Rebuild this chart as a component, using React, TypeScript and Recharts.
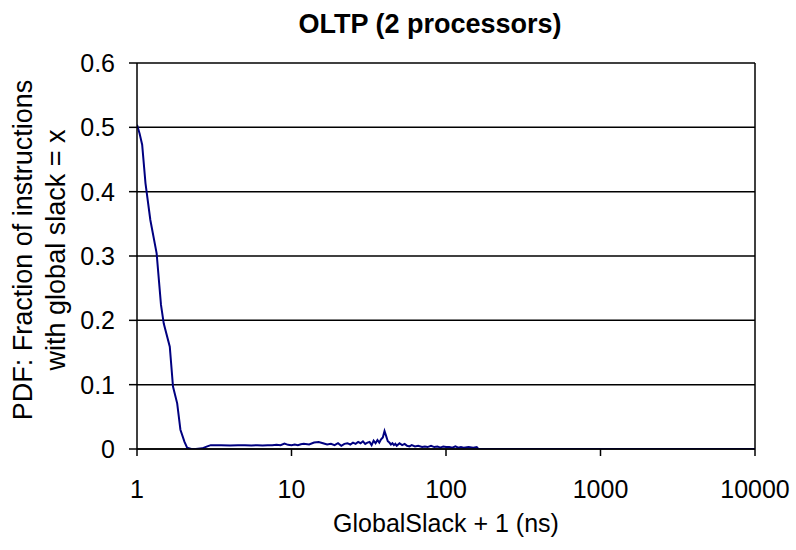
import React from "react";
import { LineChart, Line, XAxis, YAxis, CartesianGrid, ReferenceLine } from "recharts";

const chartTitle = "OLTP (2 processors)";
const xAxisTitle = "GlobalSlack + 1 (ns)";
const yAxisTitleLines = ["PDF:  Fraction of instructions", "with global slack = x"];

const xTicks = [1, 10, 100, 1000, 10000];
const yTicks = [0, 0.1, 0.2, 0.3, 0.4, 0.5, 0.6];

const slackPlusOne = [
  1, 1.04, 1.08, 1.135, 1.22, 1.34, 1.43, 1.49, 1.63, 1.71, 1.82, 1.91, 2.03, 2.11, 2.25, 2.4, 2.64, 2.85, 3.0,
  3.5, 4, 4.5, 5, 5.5, 6, 6.5, 7, 7.5, 8, 8.5, 9, 9.5, 10, 10.5, 11, 11.5, 12, 13, 14, 15, 16, 17, 18, 19, 20,
  21, 22, 23, 24, 25, 26, 27, 28, 29, 30, 31, 32, 33, 34, 35, 36, 37, 38, 39, 40, 41, 42, 43, 44, 45, 46, 47,
  48, 50, 52, 54, 56, 58, 60, 63, 66, 70, 73, 76, 80, 84, 88, 92, 96, 100, 105, 110, 115, 120, 125, 130, 140,
  150, 158, 162, 200, 500, 1000, 2000, 5000, 10000,
];

const pdfFraction = [
  0.504, 0.49, 0.473, 0.413, 0.356, 0.304, 0.224, 0.195, 0.159, 0.097, 0.071, 0.03, 0.011, 0.002, 0, 0, 0.001, 0.004, 0.006,
  0.006, 0.0055, 0.006, 0.006, 0.0055, 0.006, 0.0055, 0.006, 0.006, 0.0065, 0.006, 0.0085, 0.0065, 0.006, 0.007, 0.006, 0.0075, 0.008, 0.007, 0.01, 0.011, 0.009, 0.007, 0.008, 0.006, 0.009,
  0.005, 0.008, 0.009, 0.007, 0.01, 0.008, 0.011, 0.009, 0.012, 0.008, 0.01, 0.011, 0.006, 0.013, 0.009, 0.014, 0.01, 0.015, 0.018, 0.028, 0.02, 0.012, 0.01, 0.007, 0.009, 0.006, 0.008,
  0.005, 0.009, 0.006, 0.008, 0.005, 0.004, 0.006, 0.004, 0.005, 0.003, 0.004, 0.003, 0.005, 0.003, 0.004, 0.002, 0.004, 0.003, 0.003, 0.002, 0.004, 0.002, 0.003, 0.002, 0.003,
  0.002, 0.003, 0, 0, 0, 0, 0, 0, 0,
];

const data = slackPlusOne.map((x, i) => ({ x, y: pdfFraction[i] }));

const FONT = "'Liberation Sans', Arial, sans-serif";

const YLabel = (props: any) => {
  return (
    <g>
      <text x={23} y={250} transform="rotate(-90 23 250)" textAnchor="middle" dominantBaseline="central"
        fontFamily={FONT} fontSize={27} fill="#000">{yAxisTitleLines[0]}</text>
      <text x={56} y={250} transform="rotate(-90 56 250)" textAnchor="middle" dominantBaseline="central"
        fontFamily={FONT} fontSize={27} fill="#000">{yAxisTitleLines[1]}</text>
    </g>
  );
};

export default function App() {
  return (
    <div style={{ position: "absolute", left: 0, top: 0, width: 796, height: 550, background: "#fff", overflow: "hidden" }}>
      <div style={{ position: "absolute", left: 0, width: 860, top: 11, lineHeight: "27px", textAlign: "center", fontFamily: FONT, fontWeight: "bold", fontSize: 27 }}>
        {chartTitle}
      </div>
      <LineChart width={796} height={550} data={data} margin={{ top: 63, right: 41, bottom: 0, left: 0 }}>
        <CartesianGrid vertical={false} stroke="#000" strokeWidth={1.5} horizontalValues={yTicks} />
        <ReferenceLine x={10000} stroke="#000" strokeWidth={1.5} />
        <XAxis dataKey="x" type="number" scale="log" domain={[1, 10000]} ticks={xTicks} allowDataOverflow
          height={101} stroke="#000" strokeWidth={1.5} tickSize={7} tickMargin={24}
          tick={{ fill: "#000", fontFamily: FONT, fontSize: 25 }}
          label={{ value: xAxisTitle, position: "insideBottom", offset: 18, fill: "#000", fontFamily: FONT, fontSize: 25 }} />
        <YAxis type="number" domain={[0, 0.6]} ticks={yTicks} width={137} stroke="#000" strokeWidth={1.5}
          tickSize={8} tickMargin={14} allowDataOverflow
          tick={{ fill: "#000", fontFamily: FONT, fontSize: 25 }}
          label={<YLabel />} />
        <Line type="linear" dataKey="y" stroke="#000080" strokeWidth={2} dot={false} isAnimationActive={false} />
      </LineChart>
    </div>
  );
}
